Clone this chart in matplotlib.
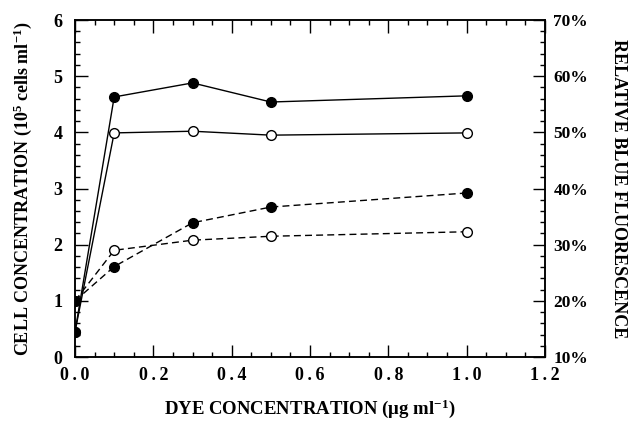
import matplotlib
matplotlib.use("Agg")
import matplotlib.pyplot as plt
from matplotlib.ticker import MultipleLocator, FuncFormatter

plt.rcParams["font.family"] = ["Liberation Serif", "DejaVu Serif"]
plt.rcParams["font.weight"] = "bold"
plt.rcParams["mathtext.fontset"] = "custom"
plt.rcParams["mathtext.rm"] = "Liberation Serif:bold"
plt.rcParams["mathtext.it"] = "Liberation Serif:bold"
plt.rcParams["mathtext.bf"] = "Liberation Serif:bold"

# dye concentration (ug/ml)
dye = [0.0, 0.1, 0.3, 0.5, 1.0]

# cell concentration (10^5 cells/ml), solid lines, left axis
cells_filled = [0.45, 4.63, 4.88, 4.54, 4.65]
cells_open = [0.45, 3.99, 4.02, 3.95, 3.99]

# relative blue fluorescence (%), dashed lines, right axis
fluor_filled = [20.0, 26.1, 33.9, 36.7, 39.2]
fluor_open = [20.0, 29.0, 30.8, 31.5, 32.3]

fig = plt.figure(figsize=(6.32, 4.23), dpi=100)
ax = fig.add_axes([0.1187, 0.156, 0.7436, 0.7967])
ax2 = ax.twinx()

lw = 1.0
ms = 7
ax.plot(dye, cells_open, "-", color="black", lw=lw, marker="o", ms=ms,
        mfc="white", mec="black", mew=1.0, zorder=3)
ax.plot(dye, cells_filled, "-", color="black", lw=lw, marker="o", ms=ms,
        mfc="black", mec="black", zorder=3)

ax2.plot(dye, fluor_open, "--", color="black", lw=lw, marker="o", ms=ms,
         mfc="white", mec="black", mew=1.0, dashes=(5, 3), zorder=3)
ax2.plot(dye, fluor_filled, "--", color="black", lw=lw, marker="o", ms=ms,
         mfc="black", mec="black", dashes=(5, 3), zorder=4)

ax.set_xlim(0, 1.2)
ax.set_ylim(0, 6)
ax2.set_ylim(10, 70)


def spaced(s):
    # the original tick labels are set with wide letter spacing
    return "\u2009".join(s)


ax.xaxis.set_major_locator(MultipleLocator(0.2))
ax.xaxis.set_minor_locator(MultipleLocator(0.05))
ax.xaxis.set_major_formatter(FuncFormatter(lambda v, p: spaced("%.1f" % v)))
ax.yaxis.set_major_locator(MultipleLocator(1))
ax.yaxis.set_minor_locator(MultipleLocator(0.2))
ax2.yaxis.set_major_locator(MultipleLocator(10))
ax2.yaxis.set_minor_locator(MultipleLocator(2))
ax2.yaxis.set_major_formatter(FuncFormatter(lambda v, p: "%d%%" % v))

ax.tick_params(axis="x", which="both", direction="in", top=True, labelsize=13, pad=7)
ax.tick_params(axis="y", which="both", direction="in", right=False, labelsize=13, pad=9)
ax.tick_params(which="major", length=9, width=1.0)
ax.tick_params(which="minor", length=3.5, width=1.0)
ax2.tick_params(axis="y", which="both", direction="in", labelsize=12.5, pad=6)
ax2.tick_params(which="major", length=9, width=1.0)
ax2.tick_params(which="minor", length=3.5, width=1.0)

for a in (ax, ax2):
    for s in a.spines.values():
        s.set_linewidth(1.1)

ax.set_xlabel(r"DYE CONCENTRATION ($\mu$g ml$^{-1}$)", fontsize=13.5,
              fontweight="bold", labelpad=10)
ax.set_ylabel(r"CELL CONCENTRATION (10$^{5}$ cells ml$^{-1}$)", fontsize=13,
              fontweight="bold", labelpad=14)
ax2.set_ylabel("RELATIVE BLUE FLUORESCENCE", fontsize=13, fontweight="bold",
               rotation=270, labelpad=28)

fig.savefig("out.png", dpi=100)
